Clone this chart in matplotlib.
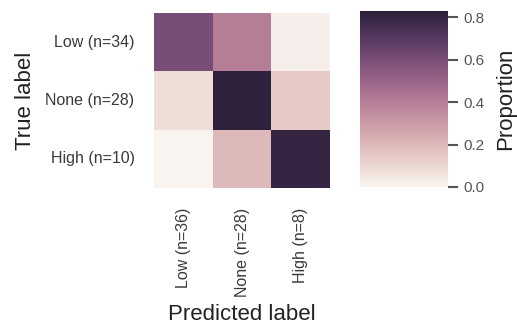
import numpy as np
import matplotlib
matplotlib.use("Agg")
import matplotlib.pyplot as plt
import seaborn as sns

true_labels = ["Low (n=34)", "None (n=28)", "High (n=10)"]
pred_labels = ["Low (n=36)", "None (n=28)", "High (n=8)"]
proportions = [
    [0.60, 0.40, 0.02],
    [0.08, 0.82, 0.14],
    [0.00, 0.20, 0.80],
]

plt.rcParams['font.family'] = ['Liberation Sans', 'DejaVu Sans']

cmap = sns.cubehelix_palette(light=0.96, dark=0.15, hue=0.65, as_cmap=True)

fig = plt.figure(figsize=(5.17, 3.26), dpi=100)
W, H = 517, 326
ax = fig.add_axes([154 / W, 1 - 188 / H, 176 / W, 175 / H])
cax = fig.add_axes([360 / W, 1 - 187 / H, 88 / W, 176 / H])

data = np.array(proportions)
sns.heatmap(data, ax=ax, cmap=cmap, vmin=0, vmax=0.83, cbar_ax=cax,
            xticklabels=pred_labels, yticklabels=true_labels, square=False)

ax.tick_params(axis='both', length=0, labelsize=11.5, colors='#3a3a3a')
ax.tick_params(axis='y', pad=14)
ax.tick_params(axis='x', pad=14)
for lbl in ax.get_yticklabels():
    lbl.set_rotation(0)
for lbl in ax.get_xticklabels():
    lbl.set_rotation(90)
ax.set_xlabel("Predicted label", fontsize=16, color='#222222', labelpad=5)
ax.set_ylabel("True label", fontsize=16, color='#222222', labelpad=7)

cax.set_yticks([0.0, 0.2, 0.4, 0.6, 0.8])
cax.tick_params(axis='y', length=7, width=1.5, labelsize=11, colors='#555555', pad=4)
for sp in cax.spines.values():
    sp.set_visible(False)
cax.set_ylabel("Proportion", fontsize=16, color='#222222', labelpad=8)

fig.savefig("out.png", dpi=100)
